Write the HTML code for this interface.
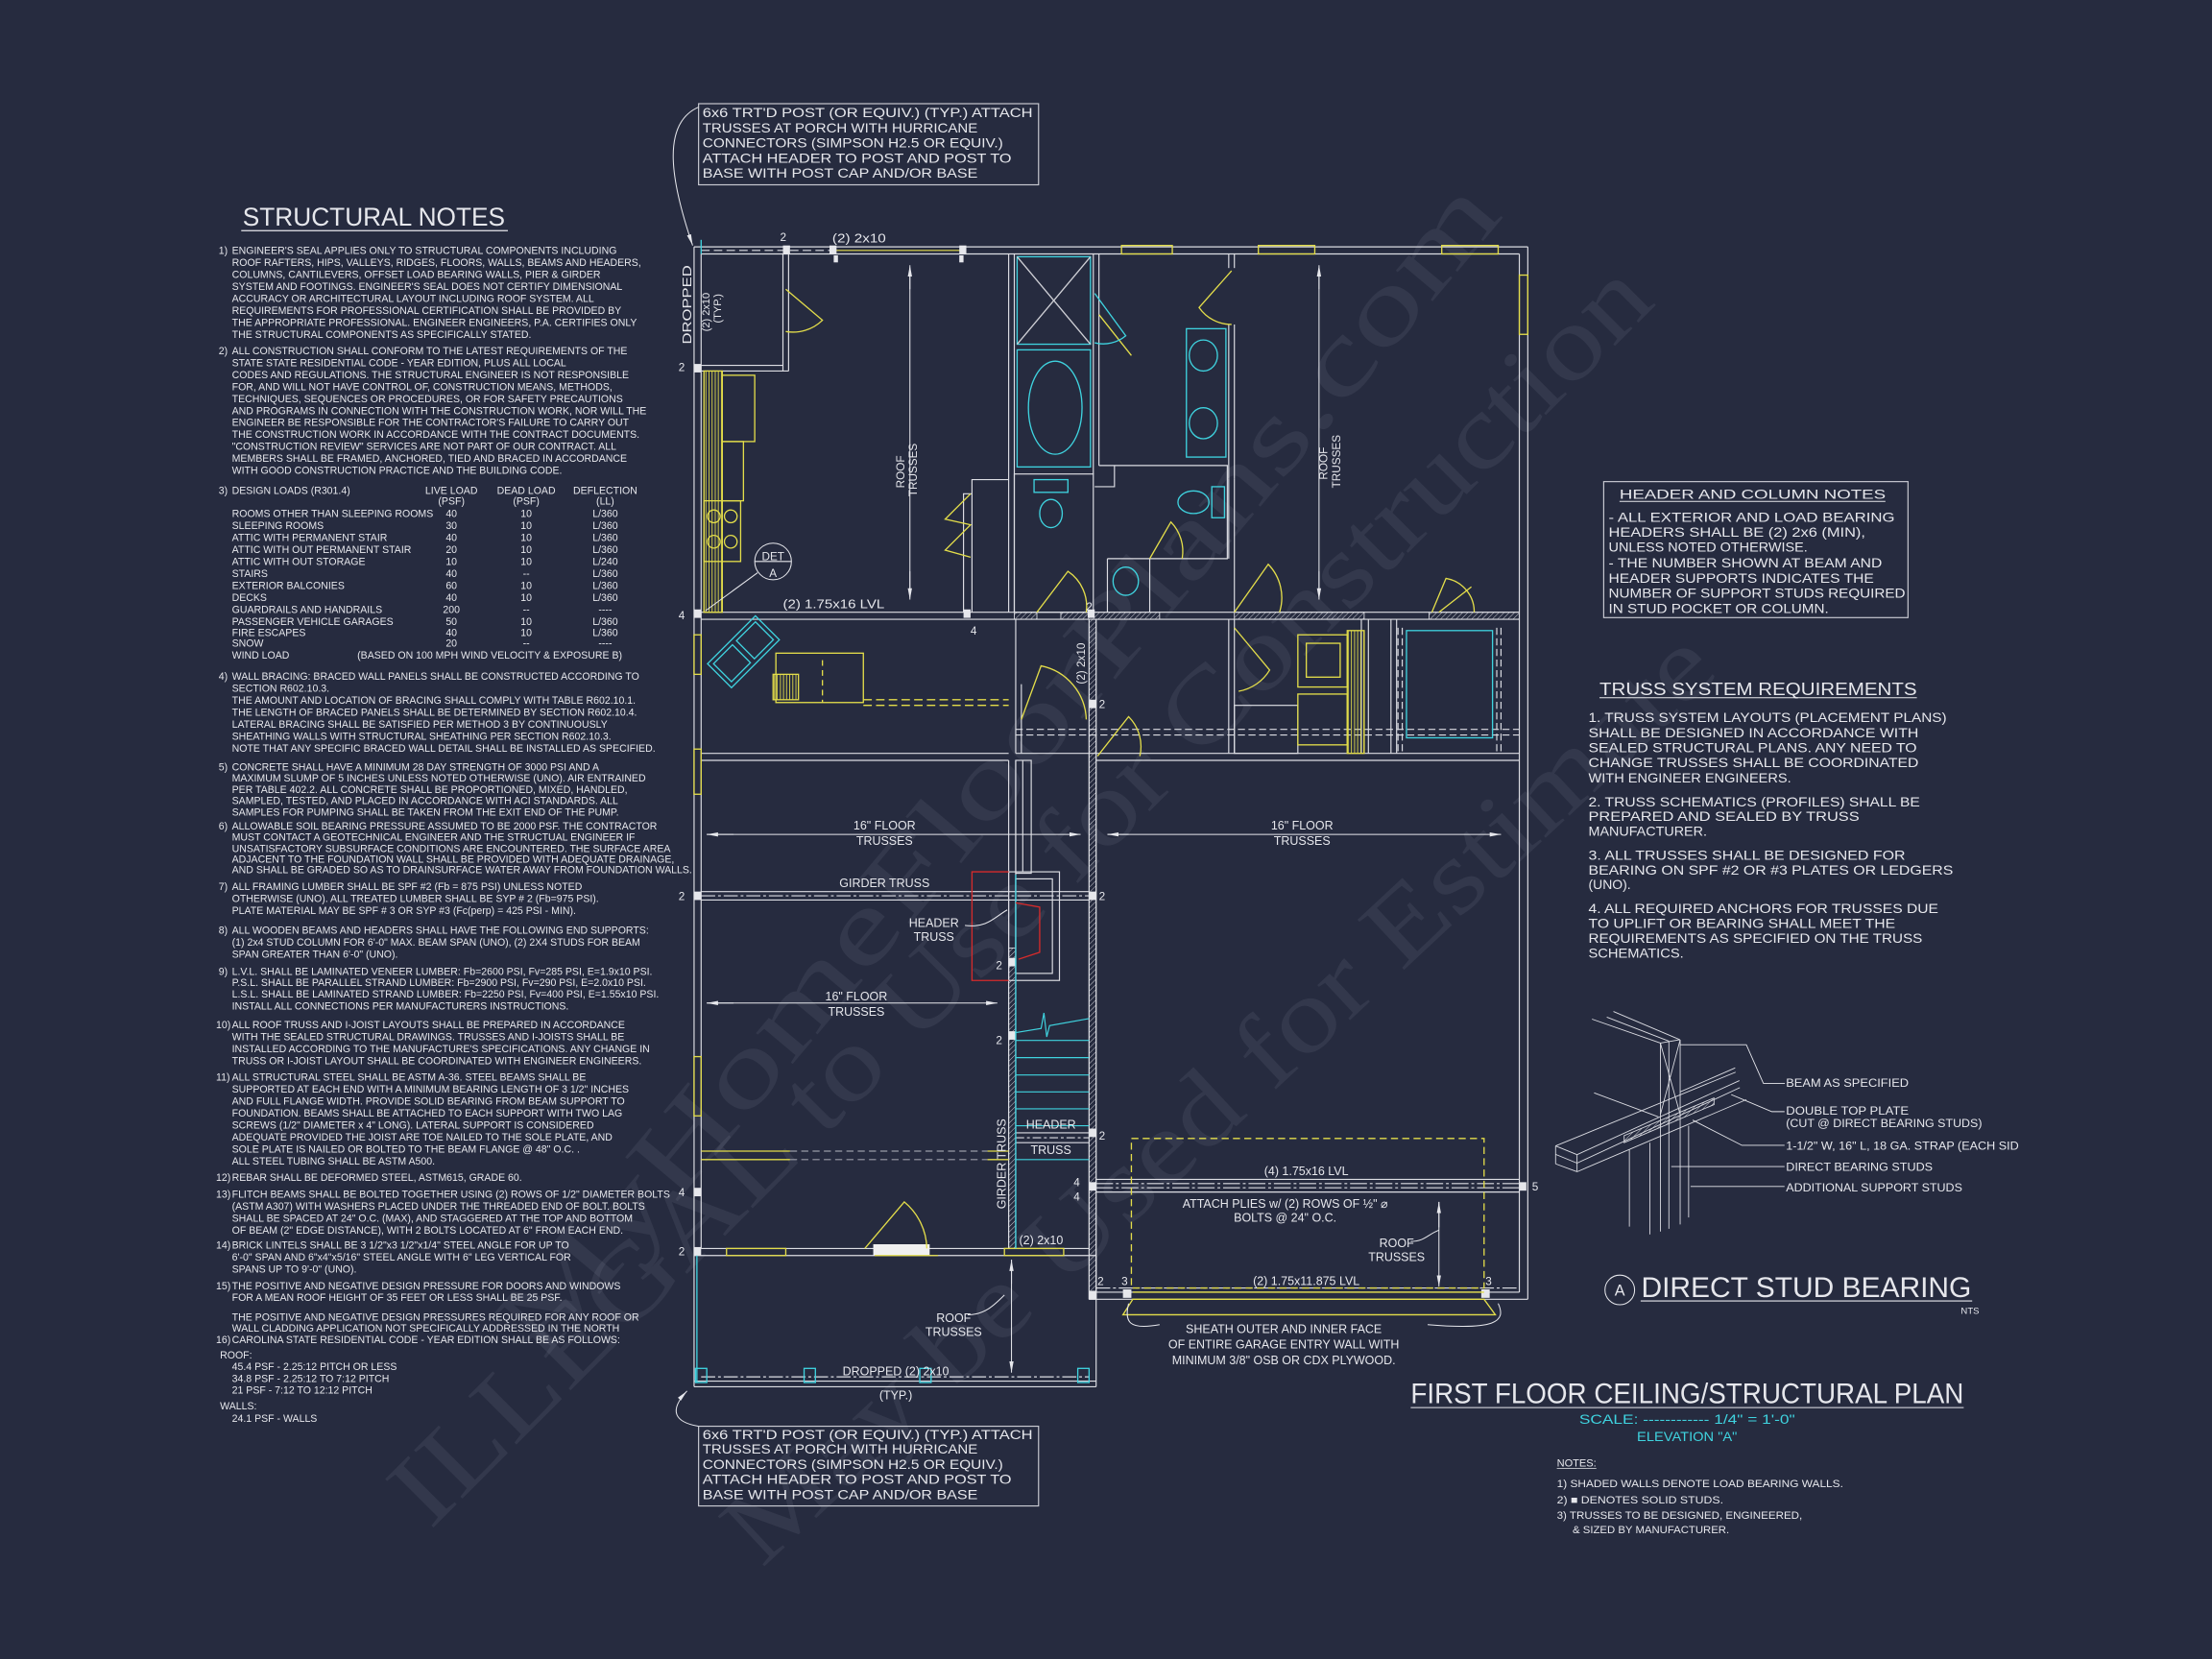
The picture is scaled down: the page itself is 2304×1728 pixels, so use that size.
<!DOCTYPE html>
<html><head><meta charset="utf-8"><style>
html,body{margin:0;padding:0;background:#262b3f;}
svg{display:block;}
text{font-family:"Liberation Sans",sans-serif;fill:#e6e7ec;}
.n text{font-size:7.6px;}
.c{fill:#3fd3df;}
.wm{font-family:"Liberation Serif",serif;fill:#b9bdcc;opacity:0.09;font-size:74px;}
</style></head><body>
<svg width="2304" height="1728" viewBox="0 0 1568 1176" xmlns="http://www.w3.org/2000/svg">
<defs>
<pattern id="h" width="2.6" height="2.6" patternUnits="userSpaceOnUse" patternTransform="rotate(45)"><line x1="0" y1="0" x2="0" y2="2.6" stroke="#e0e0e6" stroke-width="0.6"/></pattern>
<pattern id="hy" width="2.2" height="4" patternUnits="userSpaceOnUse"><line x1="1" y1="0" x2="1" y2="4" stroke="#e3dd4a" stroke-width="0.6"/></pattern>
<marker id="ar" markerWidth="8" markerHeight="6" refX="8" refY="3" orient="auto" markerUnits="userSpaceOnUse"><path d="M0,1.5 L8,3 L0,4.5 Z" fill="#e6e7ec"/></marker>
</defs>
<rect width="1568" height="1176" fill="#262b3f"/>

<!-- watermarks -->
<text class="wm" x="0" y="0" transform="translate(305,1085) rotate(-45)" textLength="1230" lengthAdjust="spacingAndGlyphs">ILLEGAL to Use for Construction</text>
<text class="wm" x="0" y="0" transform="translate(385,965) rotate(-50)" textLength="1060" lengthAdjust="spacingAndGlyphs">MyHomeFloorPlans.com</text>
<text class="wm" x="0" y="0" transform="translate(540,1112) rotate(-43)" textLength="930" lengthAdjust="spacingAndGlyphs">May be Used for Estimate</text>

<!-- STRUCTURAL NOTES -->
<text x="172" y="160" font-size="18" textLength="186" lengthAdjust="spacingAndGlyphs">STRUCTURAL NOTES</text>
<line x1="171" y1="163.5" x2="360" y2="163.5" stroke="#e6e7ec" stroke-width="0.8"/>
<g class="n" transform="translate(155,0) scale(0.945,1)">
<text x="0" y="180">1)</text>
<text x="10" y="180">ENGINEER'S SEAL APPLIES ONLY TO STRUCTURAL COMPONENTS INCLUDING</text>
<text x="10" y="188.5">ROOF RAFTERS, HIPS, VALLEYS, RIDGES, FLOORS, WALLS, BEAMS AND HEADERS,</text>
<text x="10" y="197">COLUMNS, CANTILEVERS, OFFSET LOAD BEARING WALLS, PIER &amp; GIRDER</text>
<text x="10" y="205.5">SYSTEM AND FOOTINGS.  ENGINEER'S SEAL DOES NOT CERTIFY DIMENSIONAL</text>
<text x="10" y="214">ACCURACY OR ARCHITECTURAL LAYOUT INCLUDING ROOF SYSTEM. ALL</text>
<text x="10" y="222.5">REQUIREMENTS FOR PROFESSIONAL CERTIFICATION SHALL BE PROVIDED BY</text>
<text x="10" y="231">THE APPROPRIATE PROFESSIONAL. ENGINEER ENGINEERS, P.A. CERTIFIES ONLY</text>
<text x="10" y="239.5">THE STRUCTURAL COMPONENTS AS SPECIFICALLY STATED.</text>
<text x="0" y="251">2)</text>
<text x="10" y="251">ALL CONSTRUCTION SHALL CONFORM TO THE LATEST REQUIREMENTS OF THE</text>
<text x="10" y="259.5">STATE STATE RESIDENTIAL CODE - YEAR EDITION, PLUS ALL LOCAL</text>
<text x="10" y="268">CODES AND REGULATIONS. THE STRUCTURAL ENGINEER IS NOT RESPONSIBLE</text>
<text x="10" y="276.5">FOR, AND WILL NOT HAVE CONTROL OF, CONSTRUCTION MEANS, METHODS,</text>
<text x="10" y="285">TECHNIQUES, SEQUENCES OR PROCEDURES, OR FOR SAFETY PRECAUTIONS</text>
<text x="10" y="293.5">AND PROGRAMS IN CONNECTION WITH THE CONSTRUCTION WORK, NOR WILL THE</text>
<text x="10" y="302">ENGINEER BE RESPONSIBLE FOR THE CONTRACTOR'S FAILURE TO CARRY OUT</text>
<text x="10" y="310.5">THE CONSTRUCTION WORK IN ACCORDANCE WITH THE CONTRACT DOCUMENTS.</text>
<text x="10" y="319">"CONSTRUCTION REVIEW" SERVICES ARE NOT PART OF OUR CONTRACT. ALL</text>
<text x="10" y="327.5">MEMBERS SHALL BE FRAMED, ANCHORED, TIED AND BRACED IN ACCORDANCE</text>
<text x="10" y="336">WITH GOOD CONSTRUCTION PRACTICE AND THE BUILDING CODE.</text>
<text x="0" y="350">3)</text>
<text x="10" y="350">DESIGN LOADS (R301.4)</text>
<g text-anchor="middle">
<text x="174.6" y="350">LIVE LOAD</text><text x="174.6" y="357.5">(PSF)</text>
<text x="230.7" y="350">DEAD LOAD</text><text x="230.7" y="357.5">(PSF)</text>
<text x="290" y="350">DEFLECTION</text><text x="290" y="357.5">(LL)</text>
</g>
<g>
<text x="10" y="366.5">ROOMS OTHER THAN SLEEPING ROOMS</text>
<text x="10" y="375">SLEEPING ROOMS</text>
<text x="10" y="383.5">ATTIC WITH PERMANENT STAIR</text>
<text x="10" y="392">ATTIC WITH OUT PERMANENT STAIR</text>
<text x="10" y="400.5">ATTIC WITH OUT STORAGE</text>
<text x="10" y="409">STAIRS</text>
<text x="10" y="417.5">EXTERIOR BALCONIES</text>
<text x="10" y="426">DECKS</text>
<text x="10" y="434.5">GUARDRAILS AND HANDRAILS</text>
<text x="10" y="443">PASSENGER VEHICLE GARAGES</text>
<text x="10" y="451">FIRE ESCAPES</text>
<text x="10" y="458.5">SNOW</text>
<text x="10" y="467">WIND LOAD</text>
<text x="104" y="467">(BASED ON 100 MPH WIND VELOCITY &amp; EXPOSURE B)</text>
</g>
<g text-anchor="middle">
<text x="174.6" y="366.5">40</text><text x="174.6" y="375">30</text><text x="174.6" y="383.5">40</text><text x="174.6" y="392">20</text><text x="174.6" y="400.5">10</text><text x="174.6" y="409">40</text><text x="174.6" y="417.5">60</text><text x="174.6" y="426">40</text><text x="174.6" y="434.5">200</text><text x="174.6" y="443">50</text><text x="174.6" y="451">40</text><text x="174.6" y="458.5">20</text>
<text x="230.7" y="366.5">10</text><text x="230.7" y="375">10</text><text x="230.7" y="383.5">10</text><text x="230.7" y="392">10</text><text x="230.7" y="400.5">10</text><text x="230.7" y="409">--</text><text x="230.7" y="417.5">10</text><text x="230.7" y="426">10</text><text x="230.7" y="434.5">--</text><text x="230.7" y="443">10</text><text x="230.7" y="451">10</text><text x="230.7" y="458.5">--</text>
<text x="290" y="366.5">L/360</text><text x="290" y="375">L/360</text><text x="290" y="383.5">L/360</text><text x="290" y="392">L/360</text><text x="290" y="400.5">L/240</text><text x="290" y="409">L/360</text><text x="290" y="417.5">L/360</text><text x="290" y="426">L/360</text><text x="290" y="434.5">----</text><text x="290" y="443">L/360</text><text x="290" y="451">L/360</text><text x="290" y="458.5">----</text>
</g>
<text x="0" y="482">4)</text>
<text x="10" y="482">WALL BRACING:  BRACED WALL PANELS SHALL BE CONSTRUCTED ACCORDING TO</text>
<text x="10" y="490.5">SECTION R602.10.3.</text>
<text x="10" y="499">THE AMOUNT AND LOCATION OF BRACING SHALL COMPLY WITH TABLE R602.10.1.</text>
<text x="10" y="507.5">THE LENGTH OF BRACED PANELS SHALL BE DETERMINED BY SECTION R602.10.4.</text>
<text x="10" y="516">LATERAL BRACING SHALL BE SATISFIED PER METHOD 3 BY CONTINUOUSLY</text>
<text x="10" y="524.5">SHEATHING WALLS WITH STRUCTURAL SHEATHING PER SECTION R602.10.3.</text>
<text x="10" y="533">NOTE THAT ANY SPECIFIC BRACED WALL DETAIL SHALL BE INSTALLED AS SPECIFIED.</text>
<text x="0" y="546">5)</text>
<text x="10" y="546">CONCRETE SHALL HAVE A MINIMUM 28 DAY STRENGTH OF 3000 PSI AND A</text>
<text x="10" y="554">MAXIMUM SLUMP OF 5 INCHES UNLESS NOTED OTHERWISE (UNO). AIR ENTRAINED</text>
<text x="10" y="562">PER TABLE 402.2. ALL CONCRETE SHALL BE PROPORTIONED, MIXED, HANDLED,</text>
<text x="10" y="570">SAMPLED, TESTED, AND PLACED IN ACCORDANCE WITH ACI STANDARDS. ALL</text>
<text x="10" y="578">SAMPLES FOR PUMPING SHALL BE TAKEN FROM THE EXIT END OF THE PUMP.</text>
<text x="0" y="588">6)</text>
<text x="10" y="588">ALLOWABLE SOIL BEARING PRESSURE ASSUMED TO BE 2000 PSF. THE CONTRACTOR</text>
<text x="10" y="596">MUST CONTACT A GEOTECHNICAL ENGINEER AND THE STRUCTUAL ENGINEER IF</text>
<text x="10" y="604">UNSATISFACTORY SUBSURFACE CONDITIONS ARE ENCOUNTERED. THE SURFACE AREA</text>
<text x="10" y="611.5">ADJACENT TO THE FOUNDATION WALL SHALL BE PROVIDED WITH ADEQUATE DRAINAGE,</text>
<text x="10" y="619">AND SHALL BE GRADED SO AS TO DRAINSURFACE WATER AWAY FROM FOUNDATION WALLS.</text>
<text x="0" y="631">7)</text>
<text x="10" y="631">ALL FRAMING LUMBER SHALL BE SPF #2 (Fb = 875 PSI) UNLESS NOTED</text>
<text x="10" y="639.5">OTHERWISE (UNO). ALL TREATED LUMBER SHALL BE SYP # 2 (Fb=975 PSI).</text>
<text x="10" y="648">PLATE MATERIAL MAY BE SPF # 3 OR SYP #3 (Fc(perp) = 425 PSI - MIN).</text>
<text x="0" y="662">8)</text>
<text x="10" y="662">ALL WOODEN BEAMS AND HEADERS SHALL HAVE THE FOLLOWING END SUPPORTS:</text>
<text x="10" y="670.5">(1) 2x4 STUD COLUMN FOR 6'-0" MAX. BEAM SPAN (UNO), (2) 2X4 STUDS FOR BEAM</text>
<text x="10" y="679">SPAN GREATER THAN 6'-0" (UNO).</text>
<text x="0" y="691">9)</text>
<text x="10" y="691">L.V.L.  SHALL BE LAMINATED VENEER LUMBER: Fb=2600 PSI, Fv=285 PSI, E=1.9x10  PSI.</text>
<text x="10" y="699">P.S.L.  SHALL BE PARALLEL STRAND LUMBER: Fb=2900 PSI, Fv=290 PSI, E=2.0x10  PSI.</text>
<text x="10" y="707">L.S.L.  SHALL BE LAMINATED STRAND LUMBER: Fb=2250 PSI, Fv=400 PSI, E=1.55x10  PSI.</text>
<text x="10" y="715.5">INSTALL ALL CONNECTIONS PER MANUFACTURERS INSTRUCTIONS.</text>
<text x="-2" y="729">10)</text>
<text x="10" y="729">ALL ROOF TRUSS AND I-JOIST LAYOUTS SHALL BE PREPARED IN ACCORDANCE</text>
<text x="10" y="737.5">WITH THE SEALED STRUCTURAL DRAWINGS. TRUSSES AND I-JOISTS SHALL BE</text>
<text x="10" y="746">INSTALLED ACCORDING TO THE MANUFACTURE'S SPECIFICATIONS. ANY CHANGE IN</text>
<text x="10" y="754.5">TRUSS OR I-JOIST LAYOUT SHALL BE COORDINATED WITH ENGINEER ENGINEERS.</text>
<text x="-2" y="766">11)</text>
<text x="10" y="766">ALL STRUCTURAL STEEL SHALL BE ASTM A-36. STEEL BEAMS SHALL BE</text>
<text x="10" y="774.5">SUPPORTED AT EACH END WITH A MINIMUM BEARING LENGTH OF 3 1/2" INCHES</text>
<text x="10" y="783">AND FULL FLANGE WIDTH. PROVIDE SOLID BEARING FROM BEAM SUPPORT TO</text>
<text x="10" y="791.5">FOUNDATION.  BEAMS SHALL BE ATTACHED TO EACH SUPPORT WITH TWO LAG</text>
<text x="10" y="800">SCREWS (1/2" DIAMETER x 4" LONG). LATERAL SUPPORT IS CONSIDERED</text>
<text x="10" y="808.5">ADEQUATE PROVIDED THE JOIST ARE TOE NAILED TO THE SOLE PLATE, AND</text>
<text x="10" y="817">SOLE PLATE IS NAILED OR BOLTED TO THE BEAM FLANGE @ 48" O.C. .</text>
<text x="10" y="825.5">ALL STEEL TUBING SHALL BE ASTM A500.</text>
<text x="-2" y="837">12)</text>
<text x="10" y="837">REBAR SHALL BE DEFORMED STEEL, ASTM615, GRADE 60.</text>
<text x="-2" y="849">13)</text>
<text x="10" y="849">FLITCH BEAMS SHALL BE BOLTED TOGETHER USING (2) ROWS OF 1/2" DIAMETER BOLTS</text>
<text x="10" y="857.5">(ASTM A307) WITH WASHERS PLACED UNDER THE THREADED END OF BOLT.  BOLTS</text>
<text x="10" y="866">SHALL BE SPACED AT 24" O.C. (MAX), AND STAGGERED AT THE TOP AND BOTTOM</text>
<text x="10" y="874.5">OF BEAM (2" EDGE DISTANCE), WITH 2 BOLTS LOCATED AT 6" FROM EACH END.</text>
<text x="-2" y="885">14)</text>
<text x="10" y="885">BRICK LINTELS SHALL BE 3 1/2"x3 1/2"x1/4" STEEL ANGLE FOR UP TO</text>
<text x="10" y="893.5">6'-0" SPAN AND 6"x4"x5/16" STEEL ANGLE WITH 6" LEG VERTICAL FOR</text>
<text x="10" y="902">SPANS UP TO 9'-0" (UNO).</text>
<text x="-2" y="914">15)</text>
<text x="10" y="914">THE POSITIVE AND NEGATIVE DESIGN PRESSURE FOR DOORS AND WINDOWS</text>
<text x="10" y="922">FOR A MEAN ROOF HEIGHT OF 35 FEET OR LESS SHALL BE 25 PSF.</text>
<text x="10" y="936">THE POSITIVE AND NEGATIVE DESIGN PRESSURES REQUIRED FOR ANY ROOF OR</text>
<text x="10" y="944">WALL CLADDING APPLICATION NOT SPECIFICALLY ADDRESSED IN THE NORTH</text>
<text x="-2" y="952">16)</text>
<text x="10" y="952">CAROLINA STATE RESIDENTIAL CODE - YEAR EDITION SHALL BE AS FOLLOWS:</text>
<text x="1" y="963">ROOF:</text>
<text x="10" y="971">45.4 PSF - 2.25:12 PITCH OR LESS</text>
<text x="10" y="979.5">34.8 PSF - 2.25:12 TO 7:12 PITCH</text>
<text x="10" y="988">21 PSF - 7:12 TO 12:12 PITCH</text>
<text x="1" y="999">WALLS:</text>
<text x="10" y="1008">24.1 PSF - WALLS</text>
</g>

<!-- TOP NOTE BOX -->
<rect x="495.2" y="73.5" width="241" height="57.5" fill="none" stroke="#c9cad2" stroke-width="0.8"/>
<g font-size="9.2">
<text x="498" y="83.2" textLength="234" lengthAdjust="spacingAndGlyphs">6x6 TRT'D POST (OR EQUIV.) (TYP.) ATTACH</text>
<text x="498" y="93.9" textLength="195" lengthAdjust="spacingAndGlyphs">TRUSSES AT PORCH WITH HURRICANE</text>
<text x="498" y="104.5" textLength="213" lengthAdjust="spacingAndGlyphs">CONNECTORS (SIMPSON H2.5 OR EQUIV.)</text>
<text x="498" y="115.2" textLength="219" lengthAdjust="spacingAndGlyphs">ATTACH HEADER TO POST AND POST TO</text>
<text x="498" y="125.8" textLength="195" lengthAdjust="spacingAndGlyphs">BASE WITH POST CAP AND/OR BASE</text>
</g>
<path d="M495,76 C468,88 476,130 491,174" fill="none" stroke="#e6e7ec" stroke-width="0.7" marker-end="url(#ar)"/>
<!-- BOTTOM NOTE BOX -->
<rect x="495.2" y="1011" width="241" height="56.5" fill="none" stroke="#c9cad2" stroke-width="0.8"/>
<g font-size="9.2">
<text x="498" y="1020" textLength="234" lengthAdjust="spacingAndGlyphs">6x6 TRT'D POST (OR EQUIV.) (TYP.) ATTACH</text>
<text x="498" y="1030.5" textLength="195" lengthAdjust="spacingAndGlyphs">TRUSSES AT PORCH WITH HURRICANE</text>
<text x="498" y="1041.3" textLength="213" lengthAdjust="spacingAndGlyphs">CONNECTORS (SIMPSON H2.5 OR EQUIV.)</text>
<text x="498" y="1051.8" textLength="219" lengthAdjust="spacingAndGlyphs">ATTACH HEADER TO POST AND POST TO</text>
<text x="498" y="1062.8" textLength="195" lengthAdjust="spacingAndGlyphs">BASE WITH POST CAP AND/OR BASE</text>
</g>
<path d="M495,1011 C478,1008 474,1000 487,986" fill="none" stroke="#e6e7ec" stroke-width="0.7" marker-end="url(#ar)"/>

<!-- ===== PLAN ===== -->
<g stroke="#dcdde3" stroke-width="0.8" fill="none">
<line x1="492" y1="175" x2="1083" y2="175"/><line x1="497" y1="180" x2="1077" y2="180"/>
<line x1="492" y1="175" x2="492" y2="983"/><line x1="497" y1="180" x2="497" y2="885"/>
<line x1="1083" y1="175" x2="1083" y2="921"/><line x1="1077" y1="180" x2="1077" y2="916"/>
<line x1="772" y1="921" x2="1083" y2="921"/><line x1="777" y1="916" x2="1077" y2="916"/>
<line x1="497" y1="434" x2="1077" y2="434"/><line x1="497" y1="439" x2="1077" y2="439"/>
<line x1="497" y1="534" x2="715" y2="534"/><line x1="497" y1="539" x2="715" y2="539"/>
<line x1="720" y1="534" x2="1077" y2="534"/><line x1="777" y1="539" x2="1077" y2="539"/>
<line x1="715" y1="180" x2="715" y2="434"/><line x1="719" y1="180" x2="719" y2="434"/>
<line x1="555" y1="180" x2="555" y2="263"/><line x1="559" y1="180" x2="559" y2="263"/>
<line x1="497" y1="259" x2="555" y2="259"/><line x1="497" y1="263" x2="559" y2="263"/>
<line x1="775" y1="180" x2="775" y2="336"/><line x1="779" y1="180" x2="779" y2="330"/>
<line x1="871" y1="180" x2="871" y2="190"/><line x1="875" y1="180" x2="875" y2="190"/>
<line x1="871" y1="230" x2="871" y2="339"/><line x1="875" y1="230" x2="875" y2="339"/>
<rect x="719" y="336" width="56" height="98"/>
<polyline points="779,330 870,330 870,396 815,396 815,434"/>
<polyline points="790,330 790,345 776,345"/>
<line x1="785" y1="396" x2="815" y2="396"/><line x1="785" y1="396" x2="785" y2="434"/>
<line x1="875" y1="339" x2="875" y2="434"/><line x1="871" y1="339" x2="871" y2="396"/>
<polyline points="683,434 683,350 689,350 689,340 715,340"/>
<line x1="689" y1="350" x2="689" y2="434"/>
<line x1="772" y1="439" x2="772" y2="921"/><line x1="777" y1="439" x2="777" y2="921"/>
<line x1="715" y1="539" x2="715" y2="885"/><line x1="720" y1="539" x2="720" y2="885"/>
<rect x="720" y="539" width="11" height="80"/>
<line x1="725" y1="539" x2="725" y2="618"/>
<rect x="715" y="618" width="36" height="77"/>
<rect x="720" y="623" width="26" height="67"/>
<line x1="497" y1="885" x2="772" y2="885"/><line x1="492" y1="890" x2="777" y2="890"/>
<line x1="492" y1="979" x2="777" y2="979"/><line x1="492" y1="983" x2="777" y2="983"/>
<line x1="777" y1="890" x2="777" y2="983"/>
<line x1="871" y1="439" x2="871" y2="534"/><line x1="875" y1="439" x2="875" y2="534"/>
<line x1="965" y1="439" x2="965" y2="534"/><line x1="970" y1="439" x2="970" y2="534"/>
<line x1="986" y1="439" x2="986" y2="534"/><line x1="990" y1="439" x2="990" y2="534"/>
<line x1="720" y1="439" x2="720" y2="534"/><line x1="724" y1="485" x2="724" y2="534"/>
<rect x="875" y="500" width="45" height="34"/>
<line x1="497" y1="177.5" x2="590" y2="177.5" stroke-dasharray="6,3"/>
<line x1="590" y1="177.5" x2="683" y2="177.5" stroke="#e3dd4a"/>
<line x1="720" y1="517" x2="1077" y2="517" stroke-dasharray="5,2.5"/>
<line x1="720" y1="521" x2="1077" y2="521" stroke-dasharray="5,2.5"/>
<line x1="991" y1="445" x2="991" y2="533" stroke-dasharray="5,2.5"/>
<line x1="994" y1="445" x2="994" y2="533" stroke-dasharray="5,2.5"/>
<line x1="1061" y1="445" x2="1061" y2="533" stroke-dasharray="5,2.5"/>
<line x1="1064" y1="445" x2="1064" y2="533" stroke-dasharray="5,2.5"/>
<line x1="497" y1="632" x2="772" y2="632"/><line x1="497" y1="638" x2="772" y2="638"/>
<line x1="497" y1="635" x2="772" y2="635" stroke-dasharray="10,2,2,2"/>
<line x1="720" y1="803" x2="772" y2="803"/><line x1="720" y1="810" x2="772" y2="810"/>
<line x1="720" y1="806.5" x2="772" y2="806.5" stroke-dasharray="6,2,2,2"/>
<line x1="560" y1="816" x2="700" y2="816" stroke-dasharray="5,3" stroke="#9a9ca8"/>
<line x1="560" y1="822" x2="700" y2="822" stroke-dasharray="5,3" stroke="#9a9ca8"/>
<line x1="777" y1="836" x2="1077" y2="836"/><line x1="777" y1="845" x2="1077" y2="845"/>
<line x1="777" y1="839" x2="1077" y2="839" stroke-dasharray="12,2,2,2"/>
<line x1="777" y1="842" x2="1077" y2="842" stroke-dasharray="12,2,2,2"/>
<line x1="497" y1="976" x2="772" y2="976" stroke-dasharray="10,2,2,2"/>
<line x1="777" y1="913" x2="1077" y2="913" stroke-dasharray="10,2,2,2"/>
</g>

<g fill="url(#h)" stroke="#dcdde3" stroke-width="0.6">
<rect x="719" y="434" width="16" height="5"/>
<rect x="752" y="434" width="70" height="5"/>
<rect x="875" y="434" width="92" height="5"/>
<rect x="1013" y="434" width="64" height="5"/>
<rect x="772" y="439" width="5" height="482"/>
<rect x="715" y="672" width="5" height="213"/>
</g>

<g fill="#e6e7ec">
<rect x="555" y="174" width="5" height="6"/><rect x="588" y="174" width="5" height="6"/><rect x="680" y="174" width="5" height="6"/>
<rect x="492" y="258" width="5" height="6"/><rect x="492" y="432" width="5" height="6"/><rect x="492" y="632" width="5" height="6"/>
<rect x="492" y="842" width="5" height="6"/><rect x="492" y="884" width="5" height="6"/>
<rect x="683" y="432" width="5" height="6"/><rect x="771" y="432" width="5" height="6"/><rect x="772" y="496" width="5" height="6"/>
<rect x="772" y="632" width="5" height="6"/><rect x="715" y="679" width="5" height="6"/><rect x="715" y="731" width="5" height="6"/>
<rect x="772" y="800" width="5" height="6"/><rect x="772" y="838" width="5" height="6"/><rect x="1077" y="838" width="5" height="6"/>
<rect x="772" y="915" width="5" height="6"/><rect x="796" y="914" width="6" height="6"/><rect x="1050" y="914" width="6" height="6"/>
<rect x="591" y="181" width="3" height="5"/><rect x="680" y="181" width="3" height="5"/>
<rect x="619" y="882" width="40" height="8" fill="#f0f0f0"/>
</g>

<g stroke="#e3dd4a" stroke-width="0.9" fill="none">
<rect x="795" y="174" width="36" height="6"/><rect x="892" y="174" width="40" height="6"/><rect x="1022" y="174" width="40" height="6"/>
<rect x="1077" y="195" width="6" height="42"/>
<rect x="492" y="450" width="5" height="28"/><rect x="492" y="531" width="5" height="32"/><rect x="492" y="749" width="5" height="42"/>
<rect x="515" y="885" width="42" height="5"/><rect x="712" y="885" width="42" height="5"/>
<rect x="499" y="263" width="13" height="171" fill="url(#hy)"/>
<rect x="512" y="266" width="23" height="47"/><rect x="512" y="313" width="15" height="42"/>
<rect x="499" y="355" width="26" height="43"/>
<circle cx="506" cy="366" r="4.5"/><circle cx="518" cy="366" r="4.5"/><circle cx="506" cy="384" r="4.5"/><circle cx="518" cy="384" r="4.5"/>
<rect x="550" y="463" width="62" height="35"/>
<rect x="548" y="478" width="18" height="18" fill="url(#hy)"/>
<line x1="612" y1="496" x2="715" y2="496" stroke-dasharray="6,3"/>
<line x1="612" y1="500" x2="715" y2="500" stroke-dasharray="6,3"/>
<line x1="583" y1="468" x2="583" y2="498" stroke-dasharray="4,3"/>
<path d="M557,205 L583,227 A30,30 0 0 1 557,235"/>
<path d="M688,350 L670,368 L688,372 L670,390 L688,395"/>
<path d="M873,192 L850,218 A28,28 0 0 0 873,230"/>
<path d="M779,223 L802,252"/>
<path d="M815,396 L830,370 A30,30 0 0 1 838,396"/>
<path d="M735,434 L757,405 A30,30 0 0 1 770,434"/>
<path d="M875,434 L899,400 A34,34 0 0 1 907,434"/>
<path d="M1015,434 L1025,410 A24,24 0 0 1 1045,434"/>
<path d="M1020,434 L1043,416"/>
<path d="M875,445 L900,475 A32,32 0 0 1 878,490"/>
<path d="M724,510 L738,472 A40,40 0 0 1 770,510"/>
<path d="M778,536 L800,508 A30,30 0 0 1 808,536"/>
<rect x="920" y="450" width="35" height="37"/><rect x="926" y="456" width="24" height="24"/><rect x="920" y="492" width="35" height="36"/>
<rect x="955" y="447" width="12" height="87" fill="url(#hy)"/>
<line x1="497" y1="816" x2="560" y2="816"/><line x1="497" y1="822" x2="560" y2="822"/>
<line x1="700" y1="816" x2="715" y2="816"/><line x1="700" y1="822" x2="715" y2="822"/>
<path d="M613,885 L641,852 A44,44 0 0 1 657,885"/>
<line x1="620" y1="890" x2="665" y2="890"/>
<rect x="802" y="807" width="250" height="106" stroke-dasharray="5,3"/>
<line x1="803" y1="916" x2="1052" y2="916"/>
<polygon points="803,921 796,932 1060,932 1052,921"/>
</g>

<g stroke="#3fd3df" stroke-width="0.9" fill="none">
<rect x="721" y="182" width="52" height="62"/>
<line x1="721" y1="182" x2="773" y2="244" stroke="#cfd0d6"/><line x1="773" y1="182" x2="721" y2="244" stroke="#cfd0d6"/>
<rect x="721" y="248" width="52" height="83"/>
<ellipse cx="748" cy="289" rx="19" ry="33"/>
<path d="M776,208 L798,238 A25,25 0 0 1 776,243"/>
<rect x="841" y="233" width="28" height="91"/>
<ellipse cx="853" cy="252" rx="10" ry="11"/><ellipse cx="853" cy="300" rx="10" ry="11"/>
<rect x="733" y="340" width="24" height="9"/><ellipse cx="745" cy="364" rx="8" ry="10"/>
<rect x="859" y="345" width="9" height="22"/><ellipse cx="846" cy="356" rx="11" ry="8"/>
<ellipse cx="798" cy="412" rx="9" ry="10"/>
<g transform="translate(527,462) rotate(45)"><rect x="-12" y="-24" width="24" height="48"/><rect x="-9" y="-21" width="18" height="19"/><rect x="-9" y="2" width="18" height="19"/></g>
<rect x="997" y="447" width="61" height="76"/>
<line x1="720" y1="620" x2="720" y2="885"/>
<g stroke-width="0.8">
<line x1="720" y1="737.5" x2="772" y2="737.5"/><line x1="720" y1="749.7" x2="772" y2="749.7"/><line x1="720" y1="762" x2="772" y2="762"/><line x1="720" y1="774" x2="772" y2="774"/><line x1="720" y1="786" x2="772" y2="786"/><line x1="720" y1="798" x2="772" y2="798"/><line x1="720" y1="822" x2="772" y2="822"/>
<polyline points="720,732 738,729 740,718 742,735 744,727 772,722"/>
</g>
<rect x="493" y="970" width="8" height="10"/><rect x="570" y="970" width="8" height="10"/><rect x="652" y="970" width="8" height="10"/><rect x="764" y="970" width="8" height="10"/>
<line x1="494" y1="890" x2="494" y2="980"/>
<line x1="497" y1="170" x2="497" y2="180"/>
</g>

<polyline points="715,618 689,618 689,695 715,695" fill="none" stroke="#d62b2b" stroke-width="0.9"/>
<polyline points="720,640 737,643 737,675 722,680" fill="none" stroke="#d62b2b" stroke-width="0.9"/>

<g stroke="#e6e7ec" stroke-width="0.7" fill="none">
<line x1="645" y1="205" x2="645" y2="188" marker-end="url(#ar)"/><line x1="645" y1="405" x2="645" y2="425" marker-end="url(#ar)"/>
<line x1="645" y1="190" x2="645" y2="423"/>
<line x1="935" y1="190" x2="935" y2="423"/>
<line x1="935" y1="205" x2="935" y2="188" marker-end="url(#ar)"/><line x1="935" y1="405" x2="935" y2="425" marker-end="url(#ar)"/>
<line x1="520" y1="591.5" x2="501" y2="591.5" marker-end="url(#ar)"/><line x1="501" y1="591.5" x2="766" y2="591.5" marker-end="url(#ar)"/>
<line x1="800" y1="591.5" x2="785" y2="591.5" marker-end="url(#ar)"/><line x1="785" y1="591.5" x2="1064" y2="591.5" marker-end="url(#ar)"/>
<line x1="520" y1="711" x2="501" y2="711" marker-end="url(#ar)"/><line x1="501" y1="711" x2="707" y2="711" marker-end="url(#ar)"/>
<line x1="1020" y1="870" x2="1020" y2="852" marker-end="url(#ar)"/><line x1="1020" y1="852" x2="1020" y2="912" marker-end="url(#ar)"/>
<line x1="717" y1="910" x2="717" y2="893" marker-end="url(#ar)"/><line x1="717" y1="893" x2="717" y2="973" marker-end="url(#ar)"/>
<path d="M1000,880 C1010,880 1012,875 1020,872"/>
<path d="M686,932 C698,932 705,925 712,918"/>
<path d="M684,656 C700,658 705,650 714,645"/>
<path d="M822,939 C800,943 797,937 800,924"/>
<path d="M1012,939 C1060,943 1068,937 1062,924"/>
<circle cx="548" cy="398" r="13"/>
<line x1="535" y1="398" x2="561" y2="398"/>
<line x1="537" y1="406" x2="500" y2="433"/>
</g>

<g font-size="8.5">
<text x="590" y="172" textLength="38" lengthAdjust="spacingAndGlyphs">(2) 2x10</text>
<text x="553" y="171" font-size="8">2</text>
<text x="481" y="263" font-size="8">2</text><text x="481" y="439" font-size="8">4</text><text x="481" y="638" font-size="8">2</text>
<text x="481" y="848" font-size="8">4</text><text x="481" y="890" font-size="8">2</text>
<text x="688" y="450" font-size="8">4</text><text x="770" y="433" font-size="8">2</text><text x="779" y="502" font-size="8">2</text>
<text x="779" y="638" font-size="8">2</text><text x="706" y="687" font-size="8">2</text><text x="706" y="740" font-size="8">2</text>
<text x="779" y="808" font-size="8">2</text><text x="761" y="841" font-size="8">4</text><text x="761" y="851" font-size="8">4</text>
<text x="1086" y="844" font-size="8">5</text><text x="778" y="911" font-size="8">2</text><text x="795" y="911" font-size="8">3</text><text x="1053" y="911" font-size="8">3</text>
<text transform="translate(490,244) rotate(-90)" textLength="56" lengthAdjust="spacingAndGlyphs">DROPPED</text>
<text transform="translate(503,235) rotate(-90)" font-size="7.5">(2) 2x10</text>
<text transform="translate(511,229) rotate(-90)" font-size="7.5">(TYP.)</text>
<text transform="translate(641,346) rotate(-90)" font-size="8">ROOF</text>
<text transform="translate(650,352) rotate(-90)" font-size="8">TRUSSES</text>
<text transform="translate(941,340) rotate(-90)" font-size="8">ROOF</text>
<text transform="translate(950,346) rotate(-90)" font-size="8">TRUSSES</text>
<text x="548" y="397" text-anchor="middle" font-size="8">DET</text>
<text x="548" y="409" text-anchor="middle" font-size="8">A</text>
<text x="555" y="431" textLength="72" lengthAdjust="spacingAndGlyphs">(2) 1.75x16 LVL</text>
<text transform="translate(769,485) rotate(-90)" font-size="8">(2) 2x10</text>
<text x="627" y="588" text-anchor="middle">16" FLOOR</text><text x="627" y="599" text-anchor="middle">TRUSSES</text>
<text x="923" y="588" text-anchor="middle">16" FLOOR</text><text x="923" y="599" text-anchor="middle">TRUSSES</text>
<text x="627" y="629" text-anchor="middle">GIRDER TRUSS</text>
<text x="662" y="657" text-anchor="middle">HEADER</text><text x="662" y="667" text-anchor="middle">TRUSS</text>
<text x="607" y="709" text-anchor="middle">16" FLOOR</text><text x="607" y="720" text-anchor="middle">TRUSSES</text>
<text x="745" y="800" text-anchor="middle">HEADER</text><text x="745" y="818" text-anchor="middle">TRUSS</text>
<text transform="translate(713,857) rotate(-90)">GIRDER TRUSS</text>
<text x="926" y="833" text-anchor="middle">(4) 1.75x16 LVL</text>
<text x="911" y="856" text-anchor="middle">ATTACH PLIES w/ (2) ROWS OF ½" ⌀</text>
<text x="911" y="866" text-anchor="middle">BOLTS @ 24" O.C.</text>
<text x="990" y="884" text-anchor="middle">ROOF</text><text x="990" y="894" text-anchor="middle">TRUSSES</text>
<text x="926" y="911" text-anchor="middle">(2) 1.75x11.875 LVL</text>
<text x="738" y="882" text-anchor="middle">(2) 2x10</text>
<text x="676" y="937" text-anchor="middle">ROOF</text><text x="676" y="947" text-anchor="middle">TRUSSES</text>
<text x="635" y="975" text-anchor="middle">DROPPED (2) 2x10</text>
<text x="635" y="992" text-anchor="middle">(TYP.)</text>
<text x="910" y="945" text-anchor="middle">SHEATH OUTER AND INNER FACE</text>
<text x="910" y="956" text-anchor="middle">OF ENTIRE GARAGE ENTRY WALL WITH</text>
<text x="910" y="967" text-anchor="middle">MINIMUM 3/8" OSB OR CDX PLYWOOD.</text>
</g>

<rect x="1136.8" y="341.4" width="215.7" height="96.4" fill="none" stroke="#c9cad2" stroke-width="0.8"/>
<g font-size="9.5">
<text x="1148" y="353.4" textLength="188.7" lengthAdjust="spacingAndGlyphs">HEADER AND COLUMN NOTES</text>
<line x1="1148" y1="355.4" x2="1336.5" y2="355.4" stroke="#e6e7ec" stroke-width="0.7"/>
<text x="1140.3" y="370" textLength="202.8" lengthAdjust="spacingAndGlyphs">- ALL EXTERIOR AND LOAD BEARING</text>
<text x="1140.3" y="380.4" textLength="182" lengthAdjust="spacingAndGlyphs">HEADERS SHALL BE (2) 2x6 (MIN),</text>
<text x="1140.3" y="391" textLength="141" lengthAdjust="spacingAndGlyphs">UNLESS NOTED OTHERWISE.</text>
<text x="1140.3" y="402.3" textLength="193.8" lengthAdjust="spacingAndGlyphs">- THE NUMBER SHOWN AT BEAM AND</text>
<text x="1140.3" y="413" textLength="188" lengthAdjust="spacingAndGlyphs">HEADER SUPPORTS INDICATES THE</text>
<text x="1140.3" y="423.8" textLength="210.3" lengthAdjust="spacingAndGlyphs">NUMBER OF SUPPORT STUDS REQUIRED</text>
<text x="1140.3" y="434.4" textLength="156" lengthAdjust="spacingAndGlyphs">IN STUD POCKET OR COLUMN.</text>
</g>

<text x="1133.8" y="492.6" font-size="12.5" textLength="225" lengthAdjust="spacingAndGlyphs">TRUSS SYSTEM REQUIREMENTS</text>
<line x1="1133.8" y1="494.6" x2="1358.8" y2="494.6" stroke="#e6e7ec" stroke-width="0.7"/>
<g font-size="9.5">
<text x="1126" y="511.8" textLength="253.9" lengthAdjust="spacingAndGlyphs">1. TRUSS SYSTEM LAYOUTS (PLACEMENT PLANS)</text>
<text x="1126" y="522.6" textLength="234" lengthAdjust="spacingAndGlyphs">SHALL BE DESIGNED IN ACCORDANCE WITH</text>
<text x="1126" y="533.3" textLength="232.8" lengthAdjust="spacingAndGlyphs">SEALED STRUCTURAL PLANS. ANY NEED TO</text>
<text x="1126" y="543.9" textLength="234" lengthAdjust="spacingAndGlyphs">CHANGE TRUSSES SHALL BE COORDINATED</text>
<text x="1126" y="554.7" textLength="143.7" lengthAdjust="spacingAndGlyphs">WITH ENGINEER ENGINEERS.</text>
<text x="1126" y="571.6" textLength="235" lengthAdjust="spacingAndGlyphs">2. TRUSS SCHEMATICS (PROFILES) SHALL BE</text>
<text x="1126" y="581.8" textLength="192" lengthAdjust="spacingAndGlyphs">PREPARED AND SEALED BY TRUSS</text>
<text x="1126" y="592.4" textLength="84" lengthAdjust="spacingAndGlyphs">MANUFACTURER.</text>
<text x="1126" y="609.3" textLength="224.6" lengthAdjust="spacingAndGlyphs">3. ALL TRUSSES SHALL BE DESIGNED FOR</text>
<text x="1126" y="620.1" textLength="258.5" lengthAdjust="spacingAndGlyphs">BEARING ON SPF #2 OR #3 PLATES OR LEDGERS</text>
<text x="1126" y="630.3" textLength="30" lengthAdjust="spacingAndGlyphs">(UNO).</text>
<text x="1126" y="647.2" textLength="248" lengthAdjust="spacingAndGlyphs">4. ALL REQUIRED ANCHORS FOR TRUSSES DUE</text>
<text x="1126" y="657.8" textLength="217.5" lengthAdjust="spacingAndGlyphs">TO UPLIFT OR BEARING SHALL MEET THE</text>
<text x="1126" y="668.2" textLength="236.7" lengthAdjust="spacingAndGlyphs">REQUIREMENTS AS SPECIFIED ON THE TRUSS</text>
<text x="1126" y="678.8" textLength="67.5" lengthAdjust="spacingAndGlyphs">SCHEMATICS.</text>
</g>

<g stroke="#dcdde3" stroke-width="0.6" fill="none">
<line x1="1177" y1="739.4" x2="1177" y2="873"/>
<line x1="1183" y1="738" x2="1183" y2="871"/>
<line x1="1191" y1="737" x2="1191" y2="868"/>
<line x1="1155" y1="815" x2="1155" y2="869.5"/>
<line x1="1169.5" y1="810" x2="1169.5" y2="875"/>
<line x1="1197" y1="798" x2="1197" y2="863"/>
<line x1="1143.7" y1="717" x2="1190.8" y2="737"/>
<line x1="1128.5" y1="722.4" x2="1177" y2="739.4"/>
<line x1="1139" y1="721" x2="1183" y2="738"/>
<line x1="1177" y1="739.4" x2="1190.8" y2="737"/>
<line x1="1177" y1="739.4" x2="1191" y2="790"/><line x1="1191" y1="737" x2="1177" y2="790"/>
<line x1="1102.7" y1="812.3" x2="1230.3" y2="760"/>
<line x1="1117.9" y1="824.5" x2="1233.3" y2="771"/>
<line x1="1117.9" y1="830.6" x2="1237.9" y2="779.5"/>
<line x1="1102.7" y1="812.3" x2="1117.9" y2="818.5"/>
<line x1="1102.7" y1="818.3" x2="1117.9" y2="824.5"/>
<line x1="1102.7" y1="812.3" x2="1102.7" y2="825"/>
<line x1="1102.7" y1="825" x2="1117.9" y2="830.6"/>
<line x1="1117.9" y1="818.5" x2="1117.9" y2="830.6"/>
<line x1="1117.9" y1="818.5" x2="1233" y2="766"/>
<line x1="1130" y1="774.7" x2="1175.6" y2="791.7"/>
<line x1="1191" y1="774" x2="1230" y2="757"/>
<polygon points="1151.3,805 1215,778.3 1215,783 1151.3,810" fill="url(#h)"/>
<g stroke="#e6e7ec" stroke-width="0.6">
<polyline points="1190.8,740.6 1237.9,740.6 1250,768 1265.2,768"/>
<polyline points="1227.2,775.9 1256,788 1265,788"/>
<polyline points="1199.9,794 1234.8,811.9 1265,811.9"/>
<line x1="1184.7" y1="826.9" x2="1265" y2="826.9"/>
<line x1="1198.4" y1="841" x2="1265" y2="841"/>
</g>
</g>
<g font-size="8">
<text x="1266" y="770.5" textLength="87" lengthAdjust="spacingAndGlyphs">BEAM AS SPECIFIED</text>
<text x="1266" y="790" textLength="87" lengthAdjust="spacingAndGlyphs">DOUBLE TOP PLATE</text>
<text x="1266" y="799" textLength="139" lengthAdjust="spacingAndGlyphs">(CUT @ DIRECT BEARING STUDS)</text>
<text x="1266" y="815" textLength="165" lengthAdjust="spacingAndGlyphs">1-1/2" W, 16" L, 18 GA. STRAP (EACH SID</text>
<text x="1266" y="830" textLength="104" lengthAdjust="spacingAndGlyphs">DIRECT BEARING STUDS</text>
<text x="1266" y="844.5" textLength="125" lengthAdjust="spacingAndGlyphs">ADDITIONAL SUPPORT STUDS</text>
</g>
<circle cx="1148.2" cy="914.4" r="10.5" fill="none" stroke="#e6e7ec" stroke-width="0.7"/>
<text x="1148.2" y="918.5" font-size="11" text-anchor="middle">A</text>
<text x="1163.4" y="919.3" font-size="20" textLength="234" lengthAdjust="spacingAndGlyphs">DIRECT STUD BEARING</text>
<line x1="1163" y1="922.2" x2="1398" y2="922.2" stroke="#e6e7ec" stroke-width="0.7"/>
<text x="1390" y="931.5" font-size="6.5">NTS</text>

<text x="1000" y="994.7" font-size="20" textLength="392" lengthAdjust="spacingAndGlyphs">FIRST FLOOR CEILING/STRUCTURAL PLAN</text>
<line x1="1000" y1="997.8" x2="1392" y2="997.8" stroke="#e6e7ec" stroke-width="0.7"/>
<text class="c" x="1119.4" y="1009.3" font-size="9.5" textLength="153" lengthAdjust="spacingAndGlyphs">SCALE: ------------ 1/4" = 1'-0"</text>
<text class="c" x="1160.4" y="1021.4" font-size="9.5" textLength="71" lengthAdjust="spacingAndGlyphs">ELEVATION "A"</text>
<text x="1103.6" y="1039.6" font-size="7.5" textLength="28" lengthAdjust="spacingAndGlyphs">NOTES:</text>
<line x1="1103.6" y1="1041" x2="1131.6" y2="1041" stroke="#e6e7ec" stroke-width="0.5"/>
<g font-size="7.5">
<text x="1103.6" y="1054.2" textLength="203" lengthAdjust="spacingAndGlyphs">1) SHADED WALLS DENOTE LOAD BEARING WALLS.</text>
<text x="1103.6" y="1065.6" textLength="118" lengthAdjust="spacingAndGlyphs">2) ■ DENOTES SOLID STUDS.</text>
<text x="1103.6" y="1076.8" textLength="174" lengthAdjust="spacingAndGlyphs">3) TRUSSES TO BE DESIGNED, ENGINEERED,</text>
<text x="1114.8" y="1087" textLength="111" lengthAdjust="spacingAndGlyphs">&amp; SIZED BY MANUFACTURER.</text>
</g>
</svg>
</body></html>
